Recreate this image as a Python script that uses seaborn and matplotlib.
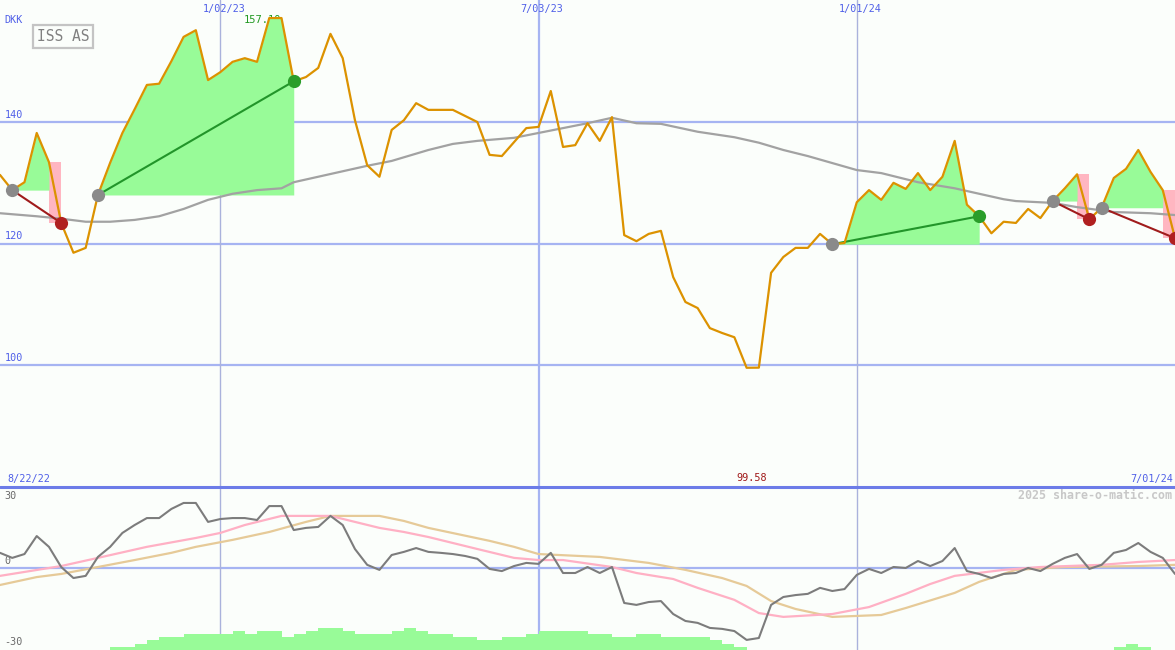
import numpy as np
import pandas as pd
import matplotlib
matplotlib.use("Agg")
import matplotlib.pyplot as plt
import matplotlib.transforms as mtransforms
import seaborn as sns

# weekly closes, ISS AS (DKK)
start_date = "2022-08-29"
price = [131.3, 128.8, 130.1, 138.2, 133.4, 123.4, 118.5, 119.3, 128.0, 133.3,
         138.2, 142.1, 146.1, 146.3, 150.0, 154.0, 155.1, 146.9, 148.2, 149.9,
         150.5, 149.9, 157.1, 157.1, 146.7, 147.4, 148.9, 154.5, 150.5, 140.3,
         132.9, 131.0, 138.7, 140.3, 143.1, 142.0, 142.0, 142.0, 141.0, 140.0,
         134.6, 134.4, 136.7, 139.0, 139.2, 145.1, 135.9, 136.2, 139.8, 136.9,
         140.8, 121.4, 120.4, 121.6, 122.1, 114.5, 110.4, 109.4, 106.1, 105.3,
         104.6, 99.58, 99.6, 115.2, 117.8, 119.3, 119.3, 121.6, 119.9, 120.1,
         126.8, 128.8, 127.2, 130.0, 129.0, 131.6, 128.8, 131.0, 136.9, 126.4,
         124.5, 121.7, 123.6, 123.4, 125.7, 124.2, 127.0, 129.1, 131.4, 124.0,
         125.9, 130.8, 132.3, 135.4, 131.8, 128.8, 120.9]

# long moving average (read at sample weeks)
ma_weeks = [0, 3, 5, 7, 9, 11, 13, 15, 17, 19, 21, 23, 24, 26, 30, 32, 35, 37, 39, 42,
            44, 46, 48, 50, 52, 54, 57, 60, 62, 64, 66, 70, 72, 75, 78, 80, 82, 83, 86, 88,
            91, 94, 96]
ma_values = [125.0, 124.5, 124.1, 123.6, 123.6, 123.9, 124.5, 125.7, 127.2, 128.2,
             128.8, 129.1, 130.1, 131.0, 132.8, 133.6, 135.4, 136.4, 136.9, 137.4,
             138.2, 139.0, 139.8, 140.7, 139.8, 139.7, 138.4, 137.5, 136.6, 135.4,
             134.4, 132.1, 131.6, 130.1, 129.1, 128.2, 127.3, 127.0, 126.7, 126.0,
             125.2, 125.0, 124.7]

# trades (week index of entry / exit)
entry_weeks = [1, 8, 68, 86, 90]
exit_weeks = [5, 24, 80, 89, 96]

# lower panel oscillator
osc = [6.3, 4.2, 5.8, 13.3, 8.8, 0.4, -4.2, -3.3, 4.6, 8.8,
       14.6, 17.9, 20.8, 20.8, 24.6, 27.1, 27.1, 19.2, 20.4, 20.8,
       20.8, 20.0, 25.8, 25.8, 15.8, 16.7, 17.1, 21.7, 17.9, 7.9,
       1.3, -0.8, 5.4, 6.7, 8.3, 6.7, 6.3, 5.8, 5.0, 3.8,
       -0.4, -1.3, 0.8, 2.1, 1.7, 6.3, -2.1, -2.1, 0.4, -2.1,
       0.4, -14.6, -15.4, -14.2, -13.8, -19.2, -22.1, -22.9, -25.0, -25.4,
       -26.3, -30.0, -29.2, -15.4, -12.1, -11.3, -10.8, -8.3, -9.6, -8.8,
       -2.9, -0.4, -2.1, 0.4, 0.0, 2.9, 0.8, 2.9, 8.3, -1.3,
       -2.5, -4.2, -2.5, -2.1, 0.0, -1.3, 1.7, 4.2, 5.8, -0.4,
       1.3, 6.3, 7.5, 10.4, 6.7, 4.2, -2.5]

pink_weeks = [0, 5, 8, 12, 16, 18, 20, 23, 27, 29, 31, 33, 35, 39, 42, 44, 46, 50, 52, 55,
              57, 60, 62, 64, 68, 71, 74, 76, 78, 82, 85, 90, 93, 96]
pink_values = [-3.3, 0.8, 4.2, 8.8, 12.5, 14.6, 17.9, 21.7, 21.7, 19.2,
               16.7, 15.0, 12.9, 7.9, 4.2, 3.3, 3.3, 0.4, -2.1, -4.6,
               -8.3, -13.3, -18.8, -20.4, -19.2, -16.3, -10.8, -6.7, -3.3, -0.8,
               0.4, 1.3, 2.5, 3.3]

tan_weeks = [0, 3, 5, 8, 11, 14, 16, 19, 22, 25, 27, 31, 33, 35, 40, 42, 44, 49, 53, 56,
             59, 61, 63, 65, 68, 72, 74, 78, 80, 83, 87, 93, 96]
tan_values = [-7.1, -3.8, -2.5, 0.4, 3.3, 6.3, 8.8, 11.7, 15.0, 19.2,
              21.7, 21.7, 19.6, 16.7, 11.3, 8.8, 5.8, 4.6, 2.1, -0.8,
              -4.2, -7.5, -13.8, -17.1, -20.4, -19.6, -16.7, -10.4, -5.8, -0.8,
              0.4, 0.8, 1.3]

hist = [0, 0, 0, 0, 0, 0, 0, 0, 0, 1,
        1, 2, 3, 4, 4, 5, 5, 5, 5, 6,
        5, 6, 6, 4, 5, 6, 7, 7, 6, 5,
        5, 5, 6, 7, 6, 5, 5, 4, 4, 3,
        3, 4, 4, 5, 6, 6, 6, 6, 5, 5,
        4, 4, 5, 5, 4, 4, 4, 4, 3, 2,
        1, 0, 0, 0, 0, 0, 0, 0, 0, 0,
        0, 0, 0, 0, 0, 0, 0, 0, 0, 0,
        0, 0, 0, 0, 0, 0, 0, 0, 0, 0,
        0, 1, 2, 1, 0, 0, 0]

date_lines = ["2023-01-02", "2023-07-03", "2024-01-01"]
date_labels = ["1/02/23", "7/03/23", "1/01/24"]
price_grid = [100, 120, 140]

sns.set_style("white")
plt.rcParams["font.family"] = ["DejaVu Sans Mono", "DejaVu Sans"]

bg = "#fbfefb"
grid_c = "#a6b4f2"
label_c = "#4f5fe8"

dates = pd.date_range(start_date, periods=len(price), freq="7D")
df = pd.DataFrame({"date": dates, "price": price, "osc": osc, "hist": hist})
ma_df = pd.DataFrame({"date": dates[ma_weeks], "ma": ma_values})
pink_df = pd.DataFrame({"date": dates[pink_weeks], "v": pink_values})
tan_df = pd.DataFrame({"date": dates[tan_weeks], "v": tan_values})
p = np.array(price)

fig = plt.figure(figsize=(11.75, 6.5), dpi=100)
fig.patch.set_facecolor(bg)
ax = fig.add_axes([0, 163 / 650, 1, 487 / 650])
ax2 = fig.add_axes([0, 0, 1, 163 / 650])

for a in (ax, ax2):
    a.set_facecolor(bg)
    for s in a.spines.values():
        s.set_visible(False)

# ---- main price panel ----
ylo, yhi = 79.97, 160.07
for y in price_grid:
    ax.axhline(y, color=grid_c, lw=1.6, zorder=0.5)
for i, d in enumerate(date_lines):
    ax.axvline(pd.Timestamp(d), color=grid_c if i == 1 else "#aab2dc",
               lw=1.6 if i == 1 else 1.0, zorder=0.5)

imax = int(np.argmax(p))
imin = int(np.argmin(p))
ax.text(dates[imax + 1], 156.8, f"{p.max():.2f}", color="#229922", fontsize=7.5,
        ha="right", va="center", zorder=1.5)

for s, e in zip(entry_weeks, exit_weeks):
    win = p[e] > p[s]
    if not win:
        ax.fill_between([dates[e - 1], dates[e]], min(p[e - 1], p[e]), max(p[e - 1], p[e]),
                        color="#ffb6c1", lw=0, zorder=1.8)
    end = e if win else e - 1
    seg = slice(s, end + 1)
    ax.fill_between(dates[seg], p[s], p[seg], where=p[seg] >= p[s], interpolate=True,
                    color="#98fb98", lw=0, zorder=2)

sns.lineplot(data=ma_df, x="date", y="ma", ax=ax, color="#a2a2a2", linewidth=1.6, zorder=3)

for s, e in zip(entry_weeks, exit_weeks):
    win = p[e] > p[s]
    ax.plot([dates[s], dates[e]], [p[s], p[e]], color="#22952a" if win else "#a01c1c",
            lw=1.5, zorder=4)

sns.lineplot(data=df, x="date", y="price", ax=ax, color="#dc9200", linewidth=1.6, zorder=5)

for s, e in zip(entry_weeks, exit_weeks):
    win = p[e] > p[s]
    ax.plot(dates[s], p[s], "o", ms=9.5, color="#8a8a8a", mec="none", zorder=6)
    ax.plot(dates[e], p[e], "o", ms=9.5, color="#2a9d2a" if win else "#b02020",
            mec="none", zorder=6)

ax.set_xlim(dates[0], dates[-1])
ax.set_ylim(ylo, yhi)
ax.set_xticks([])
ax.set_yticks([])
ax.set_xlabel("")
ax.set_ylabel("")

trans = mtransforms.blended_transform_factory(ax.transAxes, ax.transData)
for y in price_grid:
    ax.text(0.004, y + 0.35, str(y), transform=trans, color=label_c, fontsize=7.3,
            ha="left", va="bottom")
ax.text(0.004, 0.959, "DKK", transform=ax.transAxes, color=label_c, fontsize=7.3,
        ha="left", va="center")
for d, lab in zip(date_lines, date_labels):
    ax.text(pd.Timestamp(d) + pd.Timedelta(days=2), 158.6, lab, color=label_c,
            fontsize=7.3, ha="center", va="center")
ax.text(0.006, 81.3, "8/22/22", transform=trans, color=label_c, fontsize=7.3,
        ha="left", va="center")
ax.text(0.998, 81.3, "7/01/24", transform=trans, color=label_c, fontsize=7.3,
        ha="right", va="center")
ax.text(dates[imin] + pd.Timedelta(days=3), 81.4, f"{p.min():.2f}", color="#a01818",
        fontsize=7.3, ha="center", va="center")
ax.text(0.0536, 0.925, "ISS AS", transform=ax.transAxes, color="#808080", fontsize=10.5,
        ha="center", va="center",
        bbox=dict(boxstyle="square,pad=0.28", facecolor=bg, edgecolor="#c4c4c4", lw=1.6))

# ---- lower oscillator panel ----
olo, ohi = -34.2, 33.75
hist_unit = 1.33
ax2.fill_between(dates, olo, olo + np.array(hist) * hist_unit, step="post",
                 color="#98fb98", lw=0, zorder=1)
ax2.axhline(0, color=grid_c, lw=1.6, zorder=0.5)
for i, d in enumerate(date_lines):
    ax2.axvline(pd.Timestamp(d), color=grid_c if i == 1 else "#aab2dc",
                lw=1.6 if i == 1 else 1.0, zorder=0.5)
sns.lineplot(data=tan_df, x="date", y="v", ax=ax2, color="#e6ca98", linewidth=1.6, zorder=2)
sns.lineplot(data=pink_df, x="date", y="v", ax=ax2, color="#ffb0c4", linewidth=1.6, zorder=3)
sns.lineplot(data=df, x="date", y="osc", ax=ax2, color="#7c7c7c", linewidth=1.5, zorder=4)
ax2.plot([0, 1], [1, 1], transform=ax2.transAxes, color="#6c7ce8", lw=2.2,
         clip_on=False, zorder=10)

ax2.set_xlim(dates[0], dates[-1])
ax2.set_ylim(olo, ohi)
ax2.set_xticks([])
ax2.set_yticks([])
ax2.set_xlabel("")
ax2.set_ylabel("")

trans2 = mtransforms.blended_transform_factory(ax2.transAxes, ax2.transData)
ax2.text(0.004, 30, "30", transform=trans2, color="#6a6a6a", fontsize=7.3, ha="left", va="center")
ax2.text(0.004, 0.8, "0", transform=trans2, color="#6a6a6a", fontsize=7.3, ha="left", va="bottom")
ax2.text(0.004, -31, "-30", transform=trans2, color="#6a6a6a", fontsize=7.3, ha="left", va="center")
ax2.text(0.9975, 0.945, "2025 share-o-matic.com", transform=ax2.transAxes, color="#c8c8c8",
         fontsize=8.4, fontweight="bold", ha="right", va="center")

fig.savefig("out.png", dpi=100, facecolor=bg)
